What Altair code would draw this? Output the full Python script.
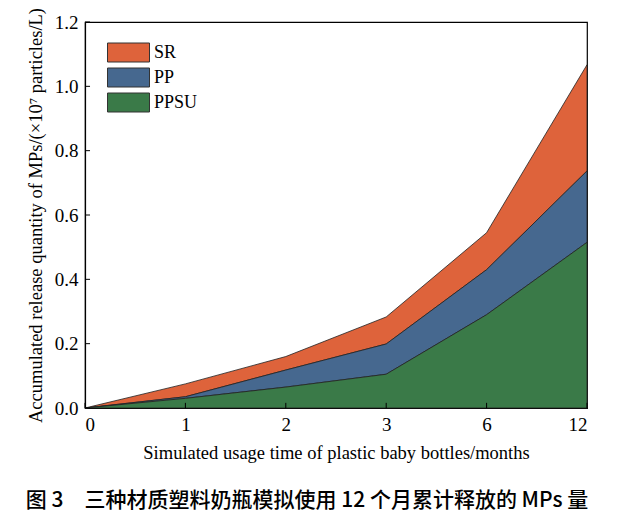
import altair as alt
import pandas as pd

# time points (months) shown evenly spaced on the x axis
months = ["0", "1", "2", "3", "6", "12"]

# per-material release, stacked (x10^7 particles/L)
ppsu = [0, 0.030, 0.065, 0.105, 0.290, 0.515]
pp = [0, 0.005, 0.053, 0.094, 0.140, 0.222]
sr = [0, 0.040, 0.042, 0.084, 0.115, 0.330]

materials = ["SR", "PP", "PPSU"]
colors = ["#DE633B", "#46688F", "#3A7A48"]
y_ticks = [0, 0.2, 0.4, 0.6, 0.8, 1.0, 1.2]

rows = []
for name, vals in zip(materials, [sr, pp, ppsu]):
    for i, v in enumerate(vals):
        rows.append({"idx": i, "month": months[i], "material": name,
                     "value": v, "stack_order": 2 - materials.index(name)})
df = pd.DataFrame(rows)

serif = "Liberation Serif"
label_expr = "[" + ",".join("'%s'" % m for m in months) + "][datum.value]"

x_scale = alt.Scale(domain=[0, len(months) - 1], nice=False, zero=False)
y_scale = alt.Scale(domain=[0, 1.2], nice=False)

areas = alt.Chart(df).mark_area(stroke="#222", strokeWidth=0.8, opacity=1).encode(
    x=alt.X("idx:Q", scale=x_scale,
            axis=alt.Axis(values=list(range(len(months))), labelExpr=label_expr,
                          title="Simulated usage time of plastic baby bottles/months",
                          tickSize=0, labelPadding=7, titlePadding=9)),
    y=alt.Y("value:Q", stack="zero", scale=y_scale,
            axis=alt.Axis(values=y_ticks, format=".1f", tickSize=0, labelPadding=7,
                          title="Accumulated release quantity of MPs/(×10⁷ particles/L)",
                          titlePadding=9)),
    color=alt.Color("material:N",
                    scale=alt.Scale(domain=materials, range=colors),
                    legend=alt.Legend(orient="none", legendX=33, legendY=20, title=None,
                                      symbolType="M-2.1,-0.95L2.1,-0.95L2.1,0.95L-2.1,0.95Z",
                                      symbolSize=400, symbolStrokeColor="#333",
                                      symbolStrokeWidth=1, symbolOpacity=1,
                                      labelOffset=15, labelFont=serif, labelFontSize=18,
                                      labelColor="black", rowPadding=2)),
    order=alt.Order("stack_order:Q"),
)

# inward tick marks
x_ticks = alt.Chart(pd.DataFrame({"idx": list(range(len(months)))})).mark_rule(
    color="black", strokeWidth=1).encode(
    x=alt.X("idx:Q", scale=x_scale), y=alt.datum(0), y2=alt.datum(0.016))
y_tick_marks = alt.Chart(pd.DataFrame({"v": y_ticks})).mark_rule(
    color="black", strokeWidth=1).encode(
    y=alt.Y("v:Q", scale=y_scale), x=alt.datum(0), x2=alt.datum(0.05))

chart = alt.layer(areas, x_ticks, y_tick_marks).properties(
    width=502, height=386,
    background="white",
    autosize=alt.AutoSizeParams(type="none"),
    padding={"left": 77, "top": 14, "right": 25, "bottom": 107},
    title=alt.TitleParams(
        "图 3　三种材质塑料奶瓶模拟使用 12 个月累计释放的 MPs 量",
        orient="bottom", anchor="middle", dx=-29, offset=28,
        font="Noto Sans CJK SC", fontSize=21, fontWeight=500, color="black"),
).configure_view(stroke="black", strokeWidth=1.2).configure_axis(
    grid=False, domainColor="black", domainWidth=1.2,
    labelFont=serif, labelFontSize=19, labelColor="black",
    titleFont=serif, titleFontSize=18.5, titleColor="black", titleFontWeight="normal",
)

chart.save("out.html", embed_options={"renderer": "svg", "actions": False})
